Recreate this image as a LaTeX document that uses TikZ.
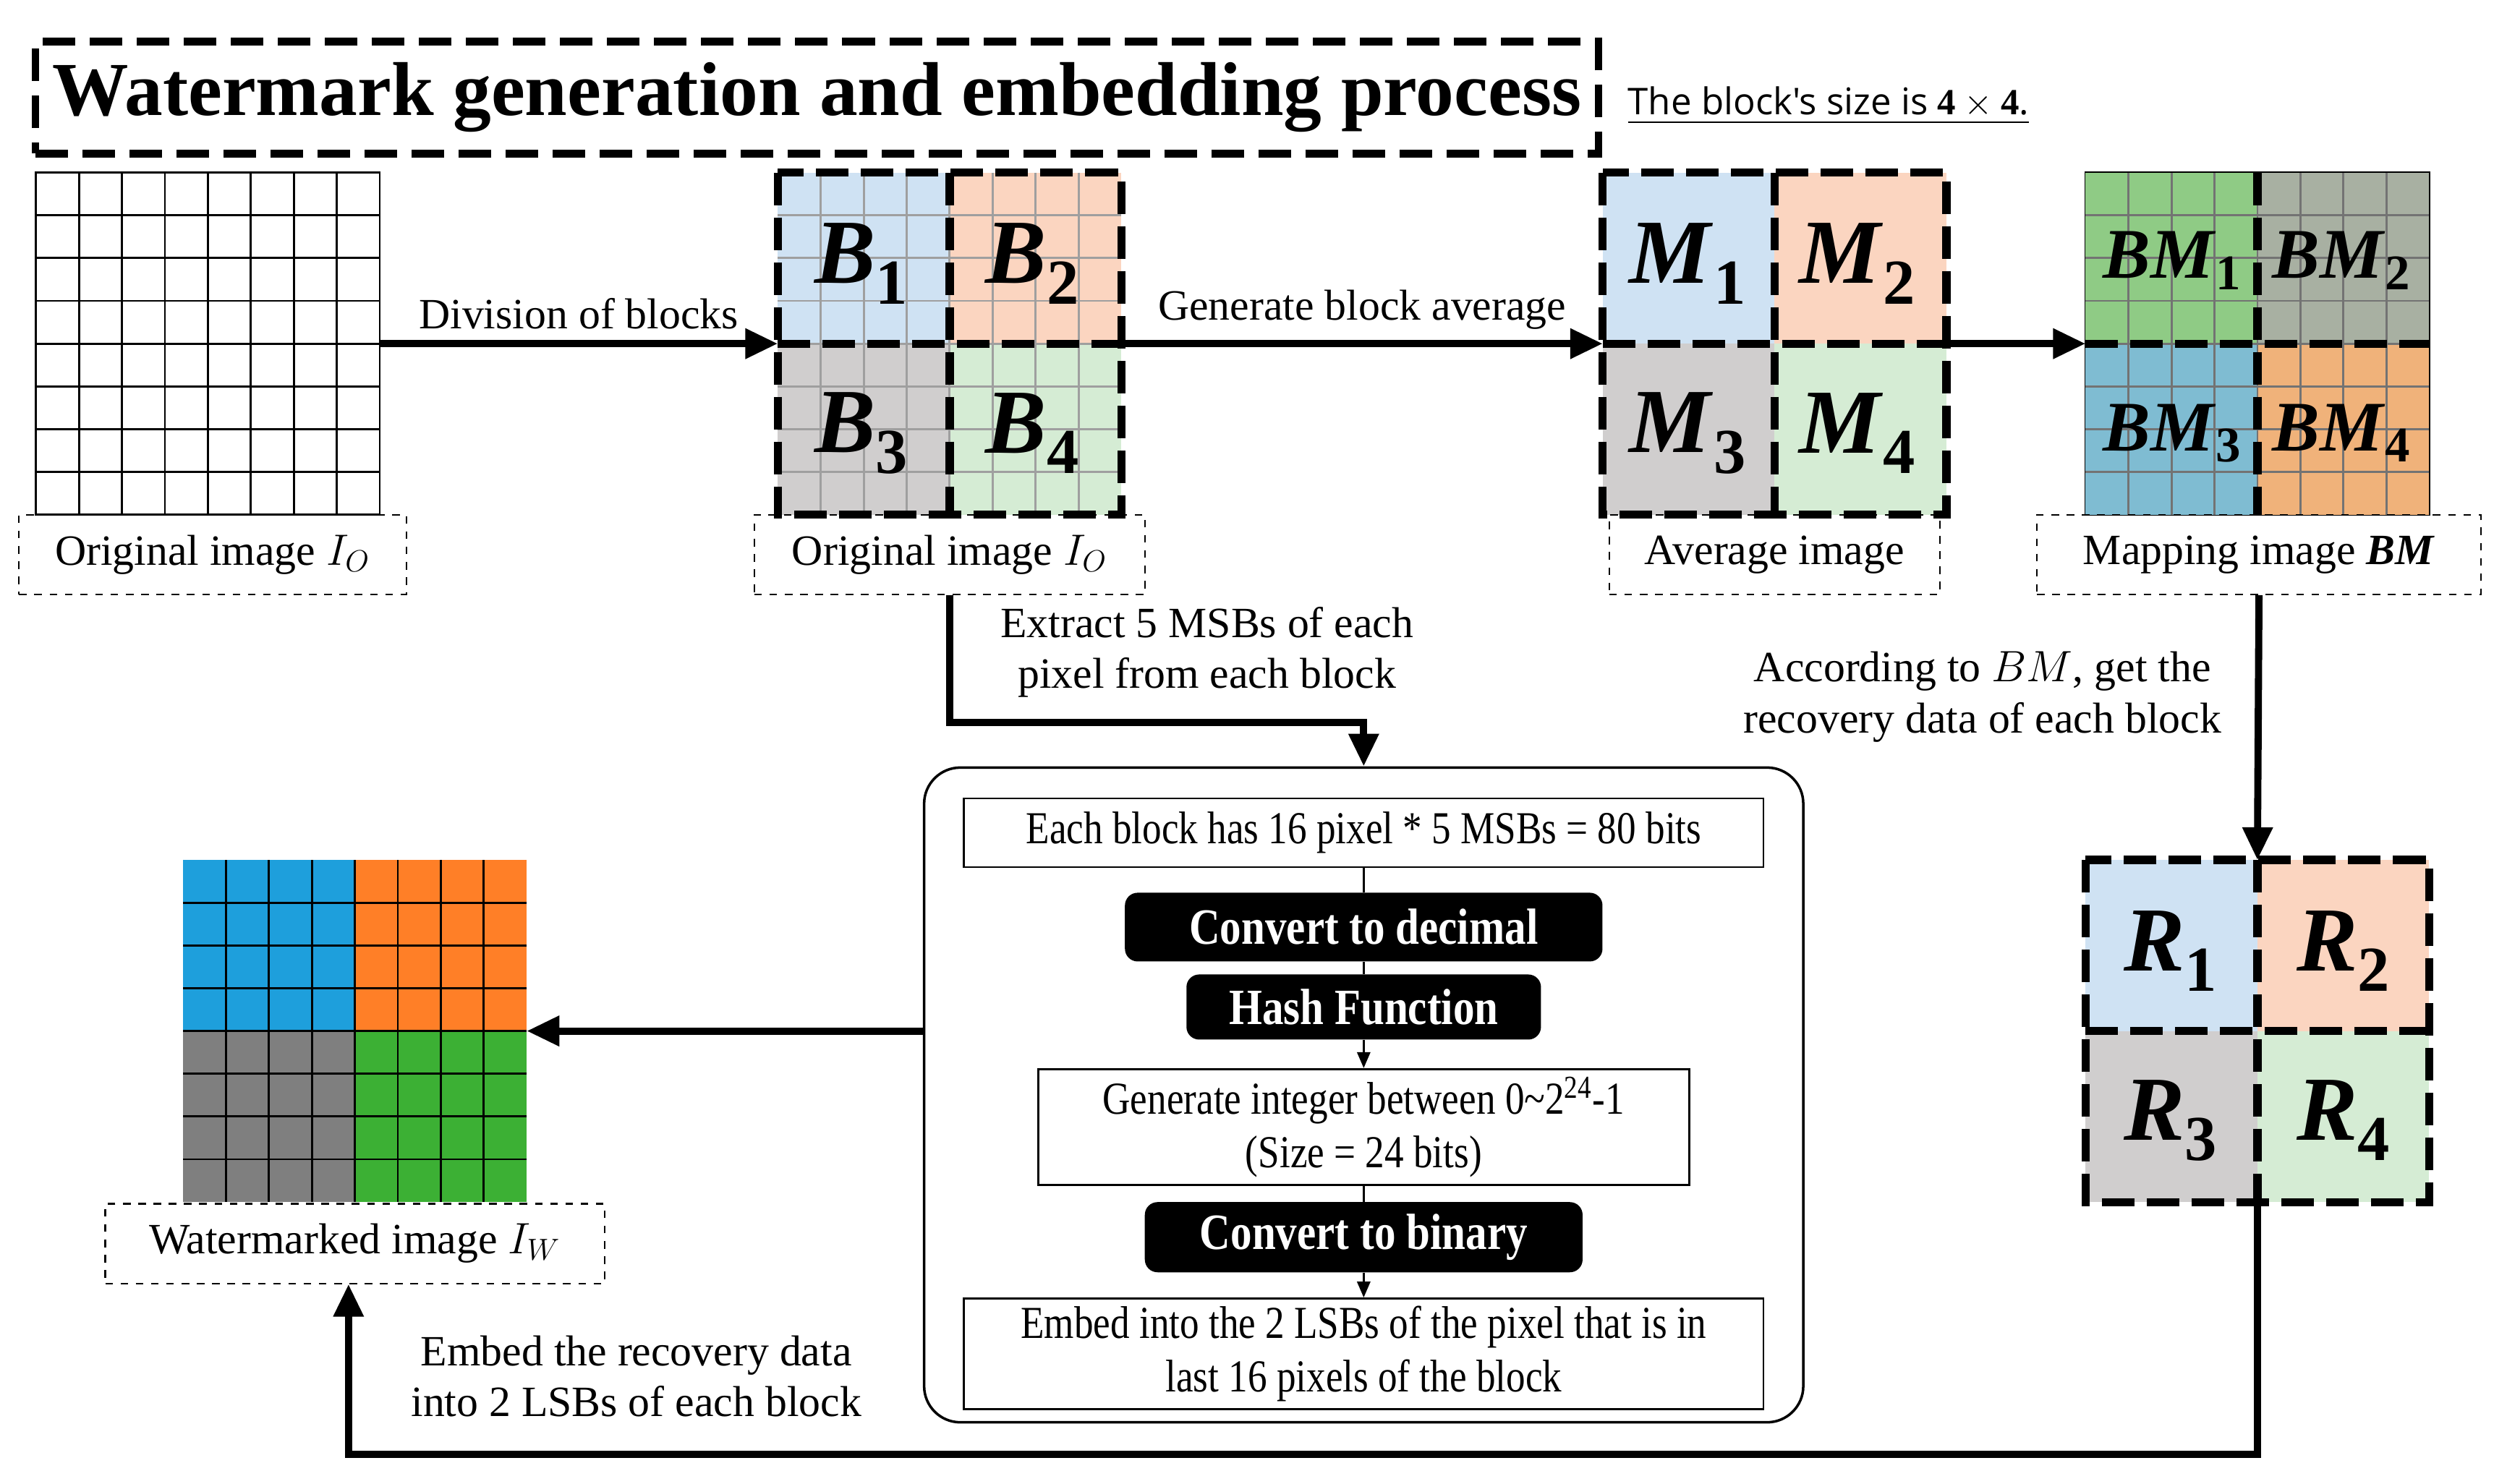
\documentclass[tikz,border=0pt]{standalone}
\usepackage{amsmath}
\usepackage{fontspec}
\setmainfont{Liberation Serif}
\newfontfamily\cond{Liberation Serif}[FakeStretch=0.84]
\newfontfamily\sansf{Open Sans}
\usetikzlibrary{calc,arrows.meta}
\definecolor{qb}{HTML}{CFE2F3}\definecolor{qo}{HTML}{FBD5C0}
\definecolor{qg}{HTML}{D0CECE}\definecolor{qe}{HTML}{D5ECD4}
\definecolor{mb1}{HTML}{8FCB85}\definecolor{mb2}{HTML}{A8B0A2}
\definecolor{mb3}{HTML}{7FBCD2}\definecolor{mb4}{HTML}{F0B27A}
\definecolor{wb}{HTML}{1E9FDC}\definecolor{wo}{HTML}{FF7F27}
\definecolor{wg}{HTML}{7F7F7F}\definecolor{wn}{HTML}{3CB034}
\newcommand\bsym[2]{$\text{\textbf{\textit{#1}}}_{\text{\textbf{#2}}}$}
\newcommand\quadfill[5]{% node, c1..c4
  \fill[#2] (#1.north west) rectangle (#1.center);
  \fill[#3] (#1.north) rectangle (#1.east);
  \fill[#4] (#1.west) rectangle (#1.south);
  \fill[#5] (#1.center) rectangle (#1.south east);}
\newcommand\gridlines[2]{% node, color
  \foreach \i in {1,...,7}{
    \draw[#2,line width=0.8pt] ($(#1.north west)!\i/8!(#1.north east)$) -- ($(#1.south west)!\i/8!(#1.south east)$);
    \draw[#2,line width=0.8pt] ($(#1.north west)!\i/8!(#1.south west)$) -- ($(#1.north east)!\i/8!(#1.south east)$);}}
\newcommand\quaddash[1]{%
  \draw[bdash] (#1.north west) rectangle (#1.south east);
  \draw[bdash] (#1.north) -- (#1.south);
  \draw[bdash] (#1.west) -- (#1.east);}
\begin{document}
\begin{tikzpicture}[x=0.0221cm,y=-0.0221cm,
  img/.style={minimum width=4.75cm,minimum height=4.73cm,inner sep=0,outer sep=0},
  lab/.style={draw,dashed,line width=0.6pt,font=\fontsize{17}{20}\selectfont,minimum height=1.1cm,inner sep=4pt},
  txt/.style={font=\fontsize{17}{20}\selectfont,align=center},
  arr/.style={line width=2.8pt,-{Triangle[length=0.45cm,width=0.4cm]}},
  bdash/.style={line width=3.2pt,dash pattern=on 0.45cm off 0.17cm},
  big/.style={font=\fontsize{36}{36}\selectfont},
  bmf/.style={font=\fontsize{28}{28}\selectfont},
  wbox/.style={draw,line width=0.8pt,font=\cond\fontsize{18}{21}\selectfont,align=center,inner sep=3pt},
  kbox/.style={fill=black,rounded corners=5pt,text=white,font=\cond\bfseries\fontsize{20}{22}\selectfont,inner sep=2pt},
  sarr/.style={line width=0.9pt,-{Triangle[length=0.22cm,width=0.18cm]}}]
\useasboundingbox (0,0) rectangle (1560,928);
% title
\node[draw,line width=3pt,dash pattern=on 0.45cm off 0.2cm,minimum width=21.6cm,minimum height=1.55cm,font=\bfseries\fontsize{30}{32}\selectfont] (title) at (511,61) {Watermark generation and embedding process};
\node[anchor=west,font=\sansf\fontsize{14.5}{16}\selectfont,inner sep=0] (size) at (1018,66) {\underline{The block's size is $\mathbf{4\times4}$.}};
% original image
\node[img,draw,line width=0.8pt] (G1) at (130,215) {};
\gridlines{G1}{black}
\node[lab,minimum width=5.35cm] (L1) at (133,347) {Original image $I_O$};
% B block
\node[img] (B) at (594,215) {};
\quadfill{B}{qb}{qo}{qg}{qe}
\gridlines{B}{gray!75}
\quaddash{B}
\node[big] at ($(B.center)+(-55,-50)$) {\bsym{B}{1}};
\node[big] at ($(B.center)+(52,-50)$) {\bsym{B}{2}};
\node[big] at ($(B.center)+(-55,56)$) {\bsym{B}{3}};
\node[big] at ($(B.center)+(52,56)$) {\bsym{B}{4}};
\node[lab,minimum width=5.4cm] (L2) at (594,347) {Original image $I_O$};
% M block
\node[img] (M) at (1110,215) {};
\quadfill{M}{qb}{qo}{qg}{qe}
\quaddash{M}
\node[big] at ($(M.center)+(-54,-50)$) {\bsym{M}{1}};
\node[big] at ($(M.center)+(52,-50)$) {\bsym{M}{2}};
\node[big] at ($(M.center)+(-54,56)$) {\bsym{M}{3}};
\node[big] at ($(M.center)+(52,56)$) {\bsym{M}{4}};
\node[lab,minimum width=4.57cm] (L3) at (1110,347) {Average image};
% BM block
\node[img,draw,line width=0.8pt] (BM) at (1412,215) {};
\quadfill{BM}{mb1}{mb2}{mb3}{mb4}
\gridlines{BM}{black!55}
\draw[bdash] (BM.north) -- (BM.south);
\draw[bdash] (BM.west) -- (BM.east);
\node[bmf] at ($(BM.center)+(-53,-52)$) {\bsym{BM}{1}};
\node[bmf] at ($(BM.center)+(53,-52)$) {\bsym{BM}{2}};
\node[bmf] at ($(BM.center)+(-53,56)$) {\bsym{BM}{3}};
\node[bmf] at ($(BM.center)+(53,56)$) {\bsym{BM}{4}};
\node[lab,minimum width=6.14cm] (L4) at (1413,347) {Mapping image \textbf{\textit{BM}}};
% R block
\node[img] (R) at (1412,645) {};
\quadfill{R}{qb}{qo}{qg}{qe}
\quaddash{R}
\node[big] at ($(R.center)+(-54,-50)$) {\bsym{R}{1}};
\node[big] at ($(R.center)+(54,-50)$) {\bsym{R}{2}};
\node[big] at ($(R.center)+(-54,56)$) {\bsym{R}{3}};
\node[big] at ($(R.center)+(54,56)$) {\bsym{R}{4}};
% watermarked
\node[img] (W) at (222,645) {};
\quadfill{W}{wb}{wo}{wg}{wn}
\gridlines{W}{black}
\node[lab,minimum width=6.9cm] (L5) at (222,778) {Watermarked image $I_W$};
% big box
\node[draw,line width=1pt,rounded corners=0.5cm,minimum width=12.15cm,minimum height=9.05cm] (BB) at (853,685) {};
\node[wbox,minimum width=11.05cm,minimum height=0.95cm] (b1) at (853,521) {Each block has 16 pixel * 5 MSBs = 80 bits};
\node[kbox,minimum width=6.6cm,minimum height=0.95cm] (b2) at (853,580) {Convert to decimal};
\node[kbox,minimum width=4.9cm,minimum height=0.9cm] (b3) at (853,630) {Hash Function};
\node[wbox,minimum width=9cm,minimum height=1.55cm] (b4) at (853,705) {Generate integer between 0\textasciitilde2\textsuperscript{24}-1\\(Size = 24 bits)};
\node[kbox,minimum width=6.05cm,minimum height=0.97cm] (b5) at (853,774) {Convert to binary};
\node[wbox,minimum width=11.05cm,minimum height=1.37cm] (b6) at (853,847) {Embed into the 2 LSBs of the pixel that is in\\last 16 pixels of the block};
\draw[line width=0.9pt] (b1) -- (b2);
\draw[line width=0.9pt] (b2) -- (b3);
\draw[sarr] (b3) -- (b4);
\draw[line width=0.9pt] (b4) -- (b5);
\draw[sarr] (b5) -- (b6);
% arrows
\draw[arr] (G1.east) -- node[txt,above=1pt]{Division of blocks} (B.west);
\draw[arr] (B.east) -- node[txt,above=1pt]{Generate block average} (M.west);
\draw[arr] (M.east) -- (BM.west);
\draw[arr] (L4.south) -- (R.north);
\node[txt] at (1240,436) {According to $BM$, get the\\recovery data of each block};
\draw[arr] (L2.south) |- (853,452) -- (BB.north);
\node[txt] at (755,408) {Extract 5 MSBs of each\\pixel from each block};
\draw[arr] (BB.west |- W.east) -- (W.east);
\draw[arr] (R.south) |- (218,910) -- (L5.south -| 218,0);
\node[txt] at (398,861) {Embed the recovery data\\into 2 LSBs of each block};
\end{tikzpicture}
\end{document}
